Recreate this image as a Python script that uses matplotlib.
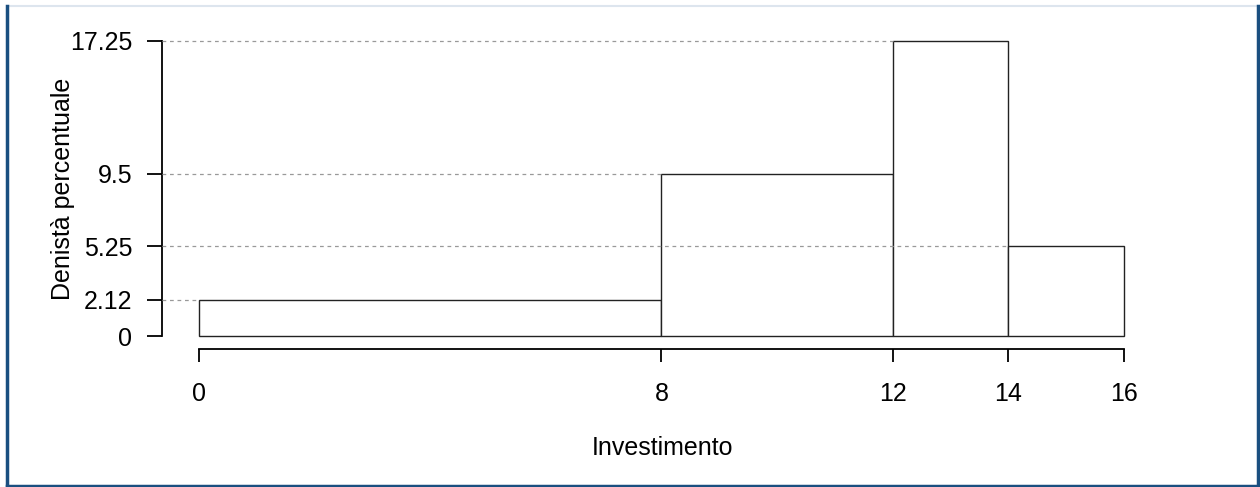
import matplotlib
matplotlib.use('Agg')
import matplotlib.pyplot as plt
from matplotlib.lines import Line2D

plt.rcParams['font.family'] = ['Liberation Sans', 'DejaVu Sans']

# Dati dell'istogramma
classi_inf = [0, 8, 12, 14]
classi_sup = [8, 12, 14, 16]
densita = [2.12, 9.5, 17.25, 5.25]
tick_x = [0, 8, 12, 14, 16]
tick_y = [0, 2.12, 5.25, 9.5, 17.25]

W, H = 1260, 487
fig = plt.figure(figsize=(W / 100, H / 100), dpi=100)
ax = fig.add_axes([162 / W, 151 / H, 962 / W, 295 / H])

# Barre
larghezze = [b - a for a, b in zip(classi_inf, classi_sup)]
barre = ax.bar(classi_inf, densita, width=larghezze, align='edge',
               facecolor='white', edgecolor='#222222', linewidth=1.0, zorder=2)
for b in barre:
    b.set_clip_on(False)

ax.set_xlim(-0.64, 16)
ax.set_ylim(0, 17.25)

# Linee tratteggiate dall'asse y fino al bordo sinistro della barra
for a, d in zip(classi_inf, densita):
    ax.plot([-0.64, a], [d, d], color='#999999', linewidth=0.9,
            linestyle=(0, (3, 3)), zorder=3, clip_on=False)

# Assi stile R
for s in ['top', 'right']:
    ax.spines[s].set_visible(False)
ax.spines['left'].set_bounds(0, 17.25)
ax.spines['bottom'].set_bounds(0, 16)
ax.spines['bottom'].set_position(('outward', 9))
ax.spines['left'].set_linewidth(1.3)
ax.spines['bottom'].set_linewidth(1.3)

ax.set_xticks(tick_x)
ax.set_xticklabels([str(t) for t in tick_x])
ax.set_yticks(tick_y)
ax.set_yticklabels(['0', '2.12', '5.25', '9.5', '17.25'])
ax.tick_params(axis='both', labelsize=18, width=1.3, color='black')
ax.tick_params(axis='x', length=9.5, pad=14.5)
ax.tick_params(axis='y', length=11, pad=10.5)

ax.set_xlabel('Investimento', fontsize=18, va='center')
ax.set_ylabel('Denistà percentuale', fontsize=18, va='center')
ax.xaxis.set_label_coords((662 - 162) / 962, (336 - 448) / 295)
ax.yaxis.set_label_coords((63 - 162) / 962, (336 - 189) / 295)

# Cornice
col = '#1a4f80'
fig.add_artist(Line2D([8 / W, 1258 / W], [1 - 6 / H, 1 - 6 / H], color='#dde5ee', linewidth=1.5))
fig.add_artist(Line2D([7 / W, 7 / W], [1 / H, 1 - 6 / H], color=col, linewidth=2.5))
fig.add_artist(Line2D([1258 / W, 1258 / W], [1 / H, 1 - 6 / H], color=col, linewidth=2.5))
fig.add_artist(Line2D([7 / W, 1258 / W], [1.5 / H, 1.5 / H], color=col, linewidth=2.5))

fig.savefig('out.png', dpi=100)
